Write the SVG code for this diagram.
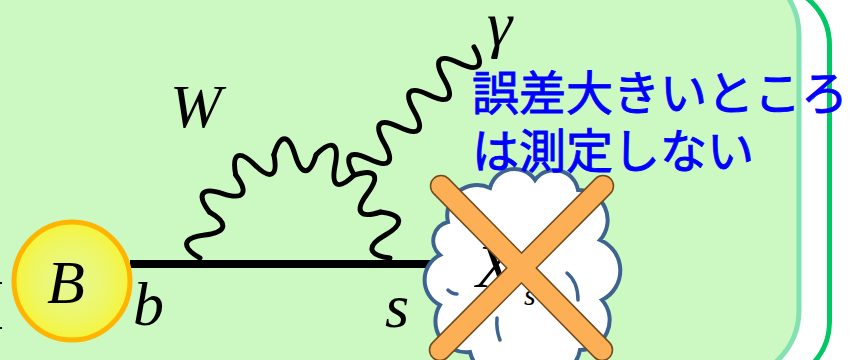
<svg xmlns="http://www.w3.org/2000/svg" width="853" height="360" viewBox="0 0 853 360">
  <defs>
    <radialGradient id="mesonFill" cx="0.5" cy="0.5" r="0.5">
      <stop offset="0" stop-color="#e6f79a"/>
      <stop offset="0.7" stop-color="#eef760"/>
      <stop offset="1" stop-color="#f6f43a"/>
    </radialGradient>
    <style>
      .sym { font-family: "Liberation Serif", "Times New Roman", serif; font-style: italic; fill: #000; }
      .note { font-family: "Noto Sans CJK JP", "Noto Sans", sans-serif; font-size: 47px; fill: #0000ff; stroke: #0000ff; stroke-width: 0.9; }
      .wave { fill: none; stroke: #000; stroke-width: 5; stroke-linecap: round; stroke-linejoin: round; }
      .cross-edge { stroke: #6e4a1e; stroke-width: 22.5; stroke-linecap: round; }
      .cross-fill { stroke: #fdaf55; stroke-width: 19.5; stroke-linecap: round; }
      .crease { fill: none; stroke: #3d6391; stroke-width: 3.5; stroke-linecap: round; }
    </style>
  </defs>

  <!-- page -->
  <rect x="0" y="0" width="853" height="360" fill="#ffffff"/>

  <!-- panel and outer bracket -->
  <g id="panel">
    <rect x="-100" y="-35" width="899" height="415" rx="70" ry="70" fill="#ccf9c1" stroke="#84e2b2" stroke-width="5"/>
  </g>
  <g id="bracket">
    <path d="M769.5,-15 A60,60 0 0 1 829.5,45 L829.5,322 A60,60 0 0 1 769.5,382" fill="none" stroke="#00c864" stroke-width="5"/>
  </g>

  <!-- stray marks at the left edge -->
  <rect x="0" y="282" width="2" height="2" fill="#000"/>
  <rect x="0" y="327" width="2" height="2" fill="#000"/>

  <!-- propagators -->
  <g id="connectors">
    <!-- quark line b -> s -->
    <line x1="130" y1="264" x2="432" y2="264" stroke="#000" stroke-width="8"/>
    <!-- W loop, one wave cycle per chord -->
    <g id="w-loop">
      <path class="wave" transform="translate(200,258) rotate(-78.45)" d="M0,0 C7.04,-21.3 16.43,-21.3 23.48,0 C30.52,21.3 39.91,21.3 46.95,0"/>
      <path class="wave" transform="translate(209.4,212) rotate(-54.42)" d="M0,0 C6.81,-21.3 15.88,-21.3 22.69,0 C29.49,21.3 38.56,21.3 45.37,0"/>
      <path class="wave" transform="translate(235.8,175.1) rotate(-28.16)" d="M0,0 C6.48,-21.3 15.13,-21.3 21.61,0 C28.09,21.3 36.74,21.3 43.22,0"/>
      <path class="wave" transform="translate(273.9,154.7)" d="M0,0 C6.33,-21.3 14.77,-21.3 21.1,0 C27.43,21.3 35.87,21.3 42.2,0"/>
      <path class="wave" transform="translate(316.1,154.7) rotate(28.16)" d="M0,0 C6.48,-21.3 15.13,-21.3 21.61,0 C28.09,21.3 36.74,21.3 43.22,0"/>
      <path class="wave" transform="translate(354.2,175.1) rotate(54.42)" d="M0,0 C6.81,-21.3 15.88,-21.3 22.69,0 C29.49,21.3 38.56,21.3 45.37,0"/>
      <path class="wave" transform="translate(380.6,212) rotate(78.45)" d="M0,0 C7.04,-21.3 16.43,-21.3 23.48,0 C30.52,21.3 39.91,21.3 46.95,0"/>
    </g>
    <!-- photon -->
    <path id="photon" class="wave" transform="translate(354.2,175.1) rotate(-46.92)" d="M0,0 C6.58,-21.3 15.35,-21.3 21.92,0 C28.5,21.3 37.27,21.3 43.85,0 C50.43,-21.3 59.2,-21.3 65.77,0 C72.35,21.3 81.12,21.3 87.7,0 C94.28,-21.3 103.05,-21.3 109.62,0 C116.2,21.3 124.97,21.3 131.55,0 C138.13,-21.3 146.9,-21.3 153.47,0 C160.05,21.3 168.82,21.3 175.4,0"/>
  </g>

  <!-- B meson -->
  <g id="meson">
    <ellipse cx="72" cy="281" rx="58" ry="59" fill="url(#mesonFill)" stroke="#ffb400" stroke-width="5"/>
    <text class="sym" x="47" y="303" font-size="62">B</text>
  </g>

  <!-- particle labels -->
  <g id="labels">
    <text class="sym" x="133" y="325" font-size="62">b</text>
    <text class="sym" x="385" y="327" font-size="62">s</text>
    <text class="sym" x="170" y="127" font-size="62">W</text>
    <text class="sym" x="487" y="45" font-size="64">γ</text>
  </g>

  <!-- hadronic system, struck out -->
  <g id="hadrons">
    <path d="M448,222 A30,30 0 0 1 490,188 A25,25 0 0 1 535,180 A24,24 0 0 1 578,190 A30,30 0 0 1 600,240 A33,33 0 0 1 602,300 A30,30 0 0 1 580,350 A29,29 0 0 1 530,365 A34,34 0 0 1 470,352 A31,31 0 0 1 440,305 A28,28 0 0 1 440,255 A19,19 0 0 1 448,222 Z" fill="#ffffff" stroke="#3d6391" stroke-width="4"/>
    <path class="crease" d="M567,273 Q578,282 578,300"/>
    <path class="crease" d="M448,290 Q452,294 457,294"/>
    <path class="crease" d="M497,318 Q496,330 500,340"/>
    <text class="sym" x="476" y="287" font-size="62">X</text>
    <text class="sym" x="524" y="305" font-size="30">s</text>
  </g>
  <g id="strike">
    <line class="cross-edge" x1="441" y1="186" x2="602" y2="350"/>
    <line class="cross-edge" x1="603" y1="186" x2="440" y2="350"/>
    <line class="cross-fill" x1="441" y1="186" x2="602" y2="350"/>
    <line class="cross-fill" x1="603" y1="186" x2="440" y2="350"/>
  </g>

  <!-- annotation -->
  <g id="note">
    <text class="note" x="472" y="110">誤差大きいところ</text>
    <text class="note" x="472" y="168">は測定しない</text>
  </g>
</svg>
